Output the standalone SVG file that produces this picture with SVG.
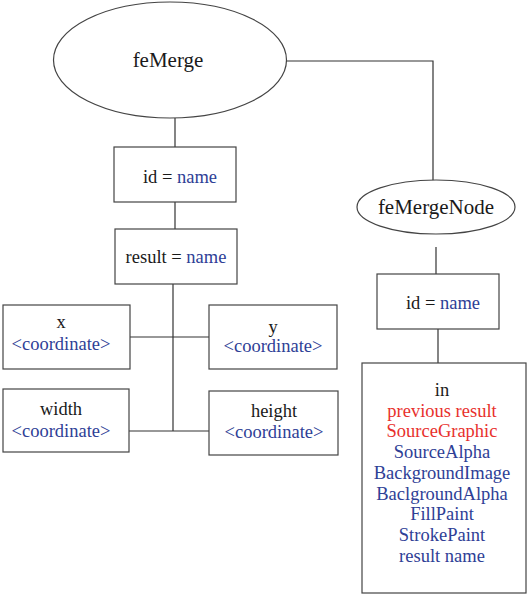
<svg xmlns="http://www.w3.org/2000/svg" width="527" height="595" viewBox="0 0 527 595">
<style>
.shape{fill:#fff;stroke:#444;stroke-width:1.2}
.conn{fill:none;stroke:#333;stroke-width:1.2}
text{font-family:"Liberation Serif","Times New Roman",serif;font-size:18.5px;fill:#1a1a1a;text-anchor:middle}
.big{font-size:21px}
.b{fill:#2e4096}
.r{fill:#e8302c}
</style>
<rect width="527" height="595" fill="#fff"/>
<g id="connectors">
<polyline class="conn" points="286,61 433,61 433,182"/>
<line class="conn" x1="175" y1="118" x2="175" y2="147"/>
<line class="conn" x1="175" y1="202" x2="175" y2="229"/>
<line class="conn" x1="173" y1="284" x2="173" y2="431"/>
<line class="conn" x1="130" y1="337" x2="209" y2="337"/>
<line class="conn" x1="129" y1="431" x2="209" y2="431"/>
<line class="conn" x1="436" y1="247" x2="436" y2="274"/>
<line class="conn" x1="438" y1="329" x2="438" y2="363"/>
</g>
<g id="feMerge">
<ellipse class="shape" cx="170" cy="60" rx="116.5" ry="58"/>
<text class="big" x="168" y="67">feMerge</text>
</g>
<g id="merge-id">
<rect class="shape" x="114" y="147" width="122" height="55"/>
<text x="180" y="183">id = <tspan class="b">name</tspan></text>
</g>
<g id="merge-result">
<rect class="shape" x="115" y="229" width="122" height="55"/>
<text x="176" y="263">result = <tspan class="b">name</tspan></text>
</g>
<g id="merge-x">
<rect class="shape" x="3" y="305" width="127" height="64"/>
<text x="61" y="328">x</text>
<text class="b" x="61" y="350">&lt;coordinate&gt;</text>
</g>
<g id="merge-y">
<rect class="shape" x="209" y="305" width="128" height="64"/>
<text x="273" y="333">y</text>
<text class="b" x="273" y="352">&lt;coordinate&gt;</text>
</g>
<g id="merge-width">
<rect class="shape" x="3" y="389" width="126" height="63"/>
<text x="61" y="415">width</text>
<text class="b" x="61" y="437">&lt;coordinate&gt;</text>
</g>
<g id="merge-height">
<rect class="shape" x="209" y="391" width="129" height="64"/>
<text x="274" y="417">height</text>
<text class="b" x="274" y="438">&lt;coordinate&gt;</text>
</g>
<g id="feMergeNode">
<ellipse class="shape" cx="436" cy="207" rx="79" ry="27"/>
<text class="big" x="436" y="214">feMergeNode</text>
</g>
<g id="node-id">
<rect class="shape" x="377" y="274" width="122" height="55"/>
<text x="443" y="309">id = <tspan class="b">name</tspan></text>
</g>
<g id="node-in">
<rect class="shape" x="362" y="363" width="164" height="230"/>
<text x="442" y="396">in</text>
<text class="r" x="442" y="417">previous result</text>
<text class="r" x="442" y="437">SourceGraphic</text>
<text class="b" x="442" y="458">SourceAlpha</text>
<text class="b" x="442" y="479">BackgroundImage</text>
<text class="b" x="442" y="500">BaclgroundAlpha</text>
<text class="b" x="442" y="520">FillPaint</text>
<text class="b" x="442" y="541">StrokePaint</text>
<text class="b" x="442" y="562">result name</text>
</g>
</svg>
